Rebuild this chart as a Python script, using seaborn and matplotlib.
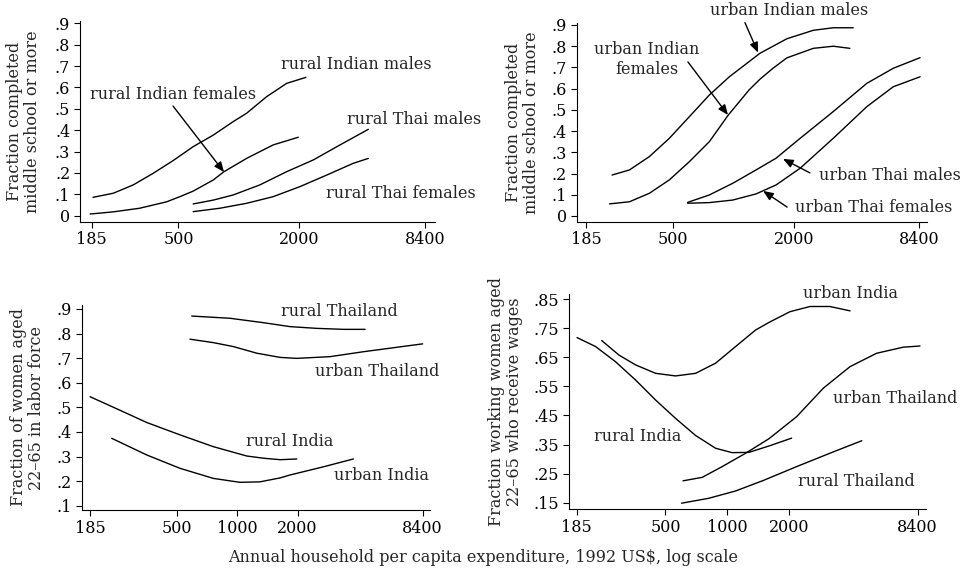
import numpy as np
import pandas as pd
import matplotlib
matplotlib.use("Agg")
import matplotlib.pyplot as plt
import seaborn as sns

sns.set_style("ticks")
plt.rcParams['font.family'] = ['DejaVu Serif']

# ---- data (expenditure in 1992 US$, log scale) ----
# panel 1: rural schooling
ri_m_x = [188, 237, 298, 374, 471, 592, 745, 936, 1091, 1374, 1727, 2153]
ri_m_y = [0.086, 0.105, 0.144, 0.198, 0.258, 0.323, 0.377, 0.44, 0.479, 0.557, 0.619, 0.647]
ri_f_x = [182, 237, 321, 437, 508, 592, 745, 840, 1091, 1479, 1972]
ri_f_y = [0.008, 0.018, 0.035, 0.065, 0.089, 0.115, 0.167, 0.205, 0.268, 0.331, 0.367]
rt_m_x = [592, 745, 936, 1270, 1727, 2345, 3180, 4400]
rt_m_y = [0.055, 0.073, 0.097, 0.144, 0.206, 0.261, 0.331, 0.404]
rt_f_x = [592, 804, 1091, 1479, 2010, 2730, 3700, 4400]
rt_f_y = [0.019, 0.035, 0.058, 0.089, 0.136, 0.19, 0.245, 0.268]

# panel 2: urban schooling
ui_m_x = [249, 304, 382, 480, 604, 759, 955, 1200, 1358, 1845, 2500, 3142, 3950]
ui_m_y = [0.193, 0.217, 0.28, 0.366, 0.468, 0.57, 0.656, 0.728, 0.767, 0.835, 0.875, 0.887, 0.887]
ui_f_x = [242, 304, 382, 480, 604, 759, 944, 1200, 1358, 1570, 1845, 2500, 3142, 3800]
ui_f_y = [0.057, 0.067, 0.107, 0.17, 0.256, 0.35, 0.476, 0.595, 0.645, 0.695, 0.745, 0.79, 0.80, 0.79]
ut_m_x = [592, 759, 993, 1297, 1630, 2150, 3142, 4615, 6250, 8500]
ut_m_y = [0.064, 0.099, 0.154, 0.217, 0.272, 0.366, 0.492, 0.625, 0.696, 0.746]
ut_f_x = [592, 759, 993, 1297, 1630, 2150, 3142, 4615, 6250, 8500]
ut_f_y = [0.06, 0.063, 0.075, 0.104, 0.146, 0.225, 0.366, 0.515, 0.609, 0.656]

# panel 3: labor force participation
lf_rt_x = [594, 761, 922, 1354, 1837, 2495, 3384, 4340]
lf_rt_y = [0.871, 0.866, 0.862, 0.844, 0.828, 0.821, 0.817, 0.817]
lf_ut_x = [582, 761, 957, 1253, 1637, 1982, 2904, 4256, 6237, 8400]
lf_ut_y = [0.777, 0.763, 0.747, 0.72, 0.703, 0.699, 0.706, 0.726, 0.744, 0.758]
lf_ri_x = [185, 242, 355, 519, 761, 1117, 1354, 1637, 1982]
lf_ri_y = [0.543, 0.50, 0.438, 0.388, 0.34, 0.302, 0.293, 0.287, 0.29]
lf_ui_x = [237, 355, 519, 761, 1033, 1300, 1637, 1837, 2687, 3793]
lf_ui_y = [0.374, 0.306, 0.252, 0.211, 0.195, 0.197, 0.213, 0.225, 0.258, 0.29]

# panel 4: wage work
wg_ri_x = [186, 229, 286, 358, 448, 560, 701, 877, 1055, 1273, 1610, 2052]
wg_ri_y = [0.718, 0.687, 0.635, 0.572, 0.503, 0.44, 0.381, 0.337, 0.322, 0.323, 0.346, 0.372]
wg_ui_x = [245, 297, 358, 448, 560, 701, 877, 1096, 1371, 1610, 2013, 2520, 3150, 3945]
wg_ui_y = [0.708, 0.658, 0.624, 0.595, 0.586, 0.595, 0.63, 0.687, 0.744, 0.772, 0.807, 0.825, 0.825, 0.81]
wg_ut_x = [609, 755, 944, 1227, 1593, 2172, 2928, 3945, 5310, 7160, 8630]
wg_ut_y = [0.225, 0.237, 0.274, 0.32, 0.37, 0.446, 0.544, 0.618, 0.664, 0.685, 0.689]
wg_rt_x = [599, 813, 1096, 1492, 2172, 3150, 4500]
wg_rt_y = [0.148, 0.165, 0.19, 0.226, 0.274, 0.32, 0.363]

x_ticks = [185, 500, 2000, 8400]
x_ticks_b = [185, 500, 1000, 2000, 8400]
y_ticks_a = [0, .1, .2, .3, .4, .5, .6, .7, .8, .9]
y_lab_a = ['0', '.1', '.2', '.3', '.4', '.5', '.6', '.7', '.8', '.9']
y_ticks_c = [.1, .2, .3, .4, .5, .6, .7, .8, .9]
y_lab_c = ['.1', '.2', '.3', '.4', '.5', '.6', '.7', '.8', '.9']
y_ticks_d = [.15, .25, .35, .45, .55, .65, .75, .85]
y_lab_d = ['.15', '.25', '.35', '.45', '.55', '.65', '.75', '.85']

fig = plt.figure(figsize=(9.66, 5.74), dpi=100)
W, H = 966, 574


def make_ax(l, r, t, b):
    return fig.add_axes([l / W, 1 - b / H, (r - l) / W, (b - t) / H])


ax1 = make_ax(80, 435, 20.7, 221.7)
ax2 = make_ax(576.7, 926.7, 23.3, 221.7)
ax3 = make_ax(81.7, 430, 305, 510)
ax4 = make_ax(569, 926, 294, 509.3)

lw = 1.0
FS = 11.5


def draw(ax, x, y):
    sns.lineplot(x=x, y=y, ax=ax, color='black', linewidth=lw, sort=False)


def style(ax, xlim, ylim, xt, yt, yl, ylabel, lab_x):
    ax.set_xscale('log')
    ax.set_xlim(*xlim)
    ax.set_ylim(*ylim)
    ax.set_xticks(xt)
    ax.set_xticklabels([str(v) for v in xt])
    ax.minorticks_off()
    ax.set_yticks(yt)
    ax.set_yticklabels(yl)
    ax.tick_params(direction='out', length=4, width=0.8, labelsize=FS, pad=3, colors='black')
    ax.set_ylabel(ylabel, fontsize=FS, linespacing=1.1)
    ax.yaxis.set_label_coords(lab_x, 0.5)
    sns.despine(ax=ax)
    for s in ['left', 'bottom']:
        ax.spines[s].set_linewidth(0.8)
        ax.spines[s].set_color('black')


def label(ax, x, y, s, **kw):
    ax.text(x, y, s, fontsize=FS, va='center', ha=kw.pop('ha', 'left'), clip_on=False, **kw)


def arrow(ax, tail, head):
    ax.annotate('', xy=head, xytext=tail,
                arrowprops=dict(arrowstyle='-|>,head_length=0.6,head_width=0.25',
                                color='black', lw=1.0, shrinkA=0, shrinkB=0),
                annotation_clip=False)


# panel 1
for x, y in [(ri_m_x, ri_m_y), (ri_f_x, ri_f_y), (rt_m_x, rt_m_y), (rt_f_x, rt_f_y)]:
    draw(ax1, x, y)
style(ax1, (162, 9440), (-0.028, 0.912), x_ticks, y_ticks_a, y_lab_a,
      'Fraction completed\nmiddle school or more', -0.11)
label(ax1, 1618, 0.705, 'rural Indian males')
label(ax1, 182, 0.569, 'rural Indian females')
arrow(ax1, (470, 0.513), (843, 0.204))
label(ax1, 3440, 0.452, 'rural Thai males')
label(ax1, 2710, 0.106, 'rural Thai females')

# panel 2
for x, y in [(ui_m_x, ui_m_y), (ui_f_x, ui_f_y), (ut_m_x, ut_m_y), (ut_f_x, ut_f_y)]:
    draw(ax2, x, y)
style(ax2, (166, 9170), (-0.027, 0.908), x_ticks, y_ticks_a, y_lab_a,
      'Fraction completed\nmiddle school or more', -0.105)
label(ax2, 766, 0.966, 'urban Indian males')
arrow(ax2, (1142, 0.911), (1327, 0.770))
label(ax2, 372, 0.737, 'urban Indian\nfemales', ha='center', multialignment='center', linespacing=1.25)
arrow(ax2, (594, 0.726), (940, 0.476))
label(ax2, 2670, 0.189, 'urban Thai males')
arrow(ax2, (2405, 0.203), (1766, 0.269))
label(ax2, 2027, 0.042, 'urban Thai females')
arrow(ax2, (1851, 0.042), (1406, 0.118))

# panel 3
for x, y in [(lf_rt_x, lf_rt_y), (lf_ut_x, lf_ut_y), (lf_ri_x, lf_ri_y), (lf_ui_x, lf_ui_y)]:
    draw(ax3, x, y)
style(ax3, (168, 9140), (0.0825, 0.916), x_ticks_b, y_ticks_c, y_lab_c,
      'Fraction of women aged\n22\u201365 in labor force', -0.105)
label(ax3, 1655, 0.888, 'rural Thailand')
label(ax3, 2444, 0.644, 'urban Thailand')
label(ax3, 1107, 0.359, 'rural India')
label(ax3, 3040, 0.221, 'urban India')

# panel 4
for x, y in [(wg_ri_x, wg_ri_y), (wg_ui_x, wg_ui_y), (wg_ut_x, wg_ut_y), (wg_rt_x, wg_rt_y)]:
    draw(ax4, x, y)
style(ax4, (170, 9230), (0.127, 0.868), x_ticks_b, y_ticks_d, y_lab_d,
      'Fraction working women aged\n22\u201365 who receive wages', -0.128)
label(ax4, 2330, 0.868, 'urban India')
label(ax4, 3260, 0.510, 'urban Thailand')
label(ax4, 224, 0.376, 'rural India')
label(ax4, 2203, 0.221, 'rural Thailand')

fig.text(483.5 / W, 1 - 557 / H, 'Annual household per capita expenditure, 1992 US$, log scale',
         ha='center', va='center', fontsize=FS)

fig.savefig('out.png', dpi=100)
